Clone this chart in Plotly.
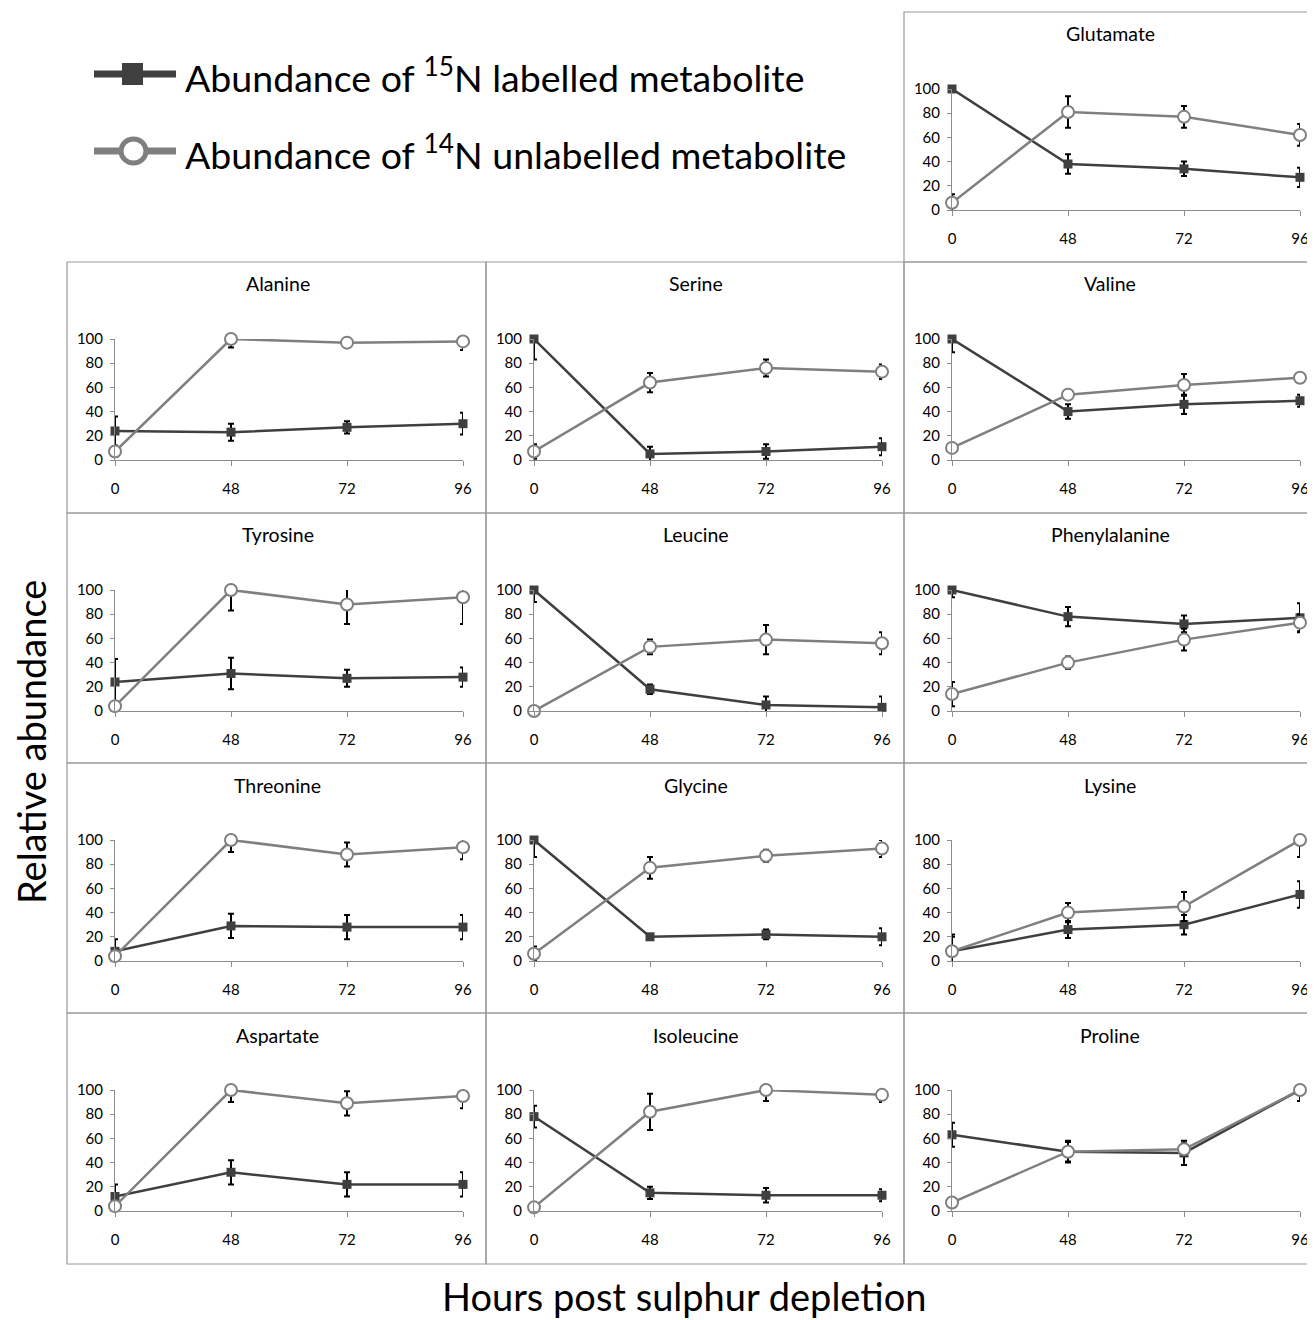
import plotly.graph_objects as go

# page body adds an 8px offset; figure is sized so that it ends at the window edge
OFF = 8
W, H = 1315 - OFF, 1320 - OFF
FONT = "Lato"

hours = ["0", "48", "72", "96"]

metabolites = ["Glutamate", "Alanine", "Serine", "Valine", "Tyrosine", "Leucine",
               "Phenylalanine", "Threonine", "Glycine", "Lysine", "Aspartate",
               "Isoleucine", "Proline"]

# 15N labelled (dark) means and error
n15 = {
    "Glutamate": [100, 38, 34, 27],
    "Alanine": [24, 23, 27, 30],
    "Serine": [100, 5, 7, 11],
    "Valine": [100, 40, 46, 49],
    "Tyrosine": [24, 31, 27, 28],
    "Leucine": [100, 18, 5, 3],
    "Phenylalanine": [100, 78, 72, 77],
    "Threonine": [8, 29, 28, 28],
    "Glycine": [100, 20, 22, 20],
    "Lysine": [8, 26, 30, 55],
    "Aspartate": [12, 32, 22, 22],
    "Isoleucine": [78, 15, 13, 13],
    "Proline": [63, 49, 48, 100],
}
n15_err = {
    "Glutamate": [2, 8, 6, 8],
    "Alanine": [12, 7, 5, 9],
    "Serine": [17, 6, 6, 7],
    "Valine": [11, 6, 8, 5],
    "Tyrosine": [19, 13, 7, 8],
    "Leucine": [10, 4, 7, 9],
    "Phenylalanine": [6, 8, 7, 12],
    "Threonine": [10, 10, 10, 10],
    "Glycine": [14, 1, 4, 7],
    "Lysine": [12, 7, 8, 11],
    "Aspartate": [10, 10, 10, 10],
    "Isoleucine": [9, 5, 6, 5],
    "Proline": [10, 9, 10, 9],
}
# 14N unlabelled (light) means and error
n14 = {
    "Glutamate": [6, 81, 77, 62],
    "Alanine": [7, 100, 97, 98],
    "Serine": [7, 64, 76, 73],
    "Valine": [10, 54, 62, 68],
    "Tyrosine": [4, 100, 88, 94],
    "Leucine": [0, 53, 59, 56],
    "Phenylalanine": [14, 40, 59, 73],
    "Threonine": [4, 100, 88, 94],
    "Glycine": [6, 77, 87, 93],
    "Lysine": [8, 40, 45, 100],
    "Aspartate": [4, 100, 89, 95],
    "Isoleucine": [3, 82, 100, 96],
    "Proline": [7, 49, 51, 100],
}
n14_err = {
    "Glutamate": [7, 13, 9, 9],
    "Alanine": [2, 7, 3, 7],
    "Serine": [6, 8, 7, 6],
    "Valine": [2, 4, 9, 2],
    "Tyrosine": [1, 17, 16, 22],
    "Leucine": [1, 6, 12, 9],
    "Phenylalanine": [10, 5, 9, 7],
    "Threonine": [2, 10, 10, 10],
    "Glycine": [6, 9, 5, 7],
    "Lysine": [14, 8, 12, 14],
    "Aspartate": [2, 10, 10, 10],
    "Isoleucine": [1, 15, 9, 6],
    "Proline": [2, 8, 5, 9],
}

# panel boxes (left, top, right, bottom) in window pixels
col_left = [67, 486, 904]
col_right = [486, 904, 1314]
row_top = [262, 513, 763, 1013]
row_bot = [513, 763, 1013, 1264]
panels = {"Glutamate": (904, 12, 1314, 262)}
grid = [["Alanine", "Serine", "Valine"],
        ["Tyrosine", "Leucine", "Phenylalanine"],
        ["Threonine", "Glycine", "Lysine"],
        ["Aspartate", "Isoleucine", "Proline"]]
for r, row in enumerate(grid):
    for c, name in enumerate(row):
        panels[name] = (col_left[c], row_top[r], col_right[c], row_bot[r])

DARK = "#3f3f3f"
LIGHT = "#7f7f7f"
AXC = "#8c8c8c"

fig = go.Figure()
shapes = []
annotations = []

def px(x):
    return (x - OFF) / W

def py(y):
    return 1 - (y - OFF) / H

xpos = list(range(len(hours)))

for i, name in enumerate(metabolites):
    L, T, R, B = panels[name]
    idx = i + 1
    xa = "x" if idx == 1 else f"x{idx}"
    ya = "y" if idx == 1 else f"y{idx}"
    xl = "xaxis" if idx == 1 else f"xaxis{idx}"
    yl = "yaxis" if idx == 1 else f"yaxis{idx}"
    fig.add_trace(go.Scatter(
        x=xpos, y=n15[name], xaxis=xa, yaxis=ya, mode="lines+markers",
        line=dict(color=DARK, width=2.5),
        marker=dict(symbol="square", size=9, color=DARK),
        error_y=dict(type="data", array=n15_err[name], color="black", thickness=2, width=3),
        cliponaxis=False, showlegend=False))
    fig.add_trace(go.Scatter(
        x=xpos, y=n14[name], xaxis=xa, yaxis=ya, mode="lines+markers",
        line=dict(color=LIGHT, width=2.5),
        marker=dict(symbol="circle", size=12, color="white", line=dict(color=LIGHT, width=2)),
        error_y=dict(type="data", array=n14_err[name], color="black", thickness=2, width=3),
        cliponaxis=False, showlegend=False))
    fig.layout[xl] = dict(
        domain=[px(L + 48), px(L + 396)], range=[0, 3], anchor=ya, automargin=False,
        tickmode="array", tickvals=xpos, ticktext=hours,
        showline=True, linecolor=AXC, linewidth=1, ticks="outside", ticklen=5,
        tickcolor=AXC, showgrid=False, zeroline=False, ticklabelstandoff=10,
        tickfont=dict(family=FONT, size=15, color="black"), fixedrange=True)
    fig.layout[yl] = dict(
        domain=[py(T + 198), py(T + 77)], range=[0, 100], anchor=xa, automargin=False,
        tickmode="array", tickvals=[0, 20, 40, 60, 80, 100],
        showline=True, linecolor=AXC, linewidth=1, ticks="outside", ticklen=4,
        tickcolor=AXC, showgrid=False, zeroline=False, ticklabelstandoff=4,
        tickfont=dict(family=FONT, size=15, color="black"), fixedrange=True)
    shapes.append(dict(type="rect", xref="paper", yref="paper",
                       x0=px(L), x1=px(R), y0=py(B), y1=py(T),
                       line=dict(color="#9a9a9a", width=1.2)))
    annotations.append(dict(text=name, xref="paper", yref="paper",
                            x=px((L + R) / 2 + 1), y=py(T + 22), showarrow=False,
                            xanchor="center", yanchor="middle",
                            font=dict(family=FONT, size=19.5, color="black")))

# legend (drawn)
leg = [(74, DARK, "square", "Abundance of <sup>15</sup>N labelled metabolite"),
       (151, LIGHT, "circle", "Abundance of <sup>14</sup>N unlabelled metabolite")]
for yy, col, sym, txt in leg:
    shapes.append(dict(type="line", xref="paper", yref="paper",
                       x0=px(94), x1=px(176), y0=py(yy), y1=py(yy),
                       line=dict(color=col, width=7)))
    if sym == "square":
        shapes.append(dict(type="rect", xref="paper", yref="paper",
                           x0=px(122), x1=px(143), y0=py(yy + 11), y1=py(yy - 11),
                           fillcolor=col, line=dict(color=col, width=0)))
    else:
        shapes.append(dict(type="circle", xref="paper", yref="paper",
                           x0=px(121), x1=px(146), y0=py(yy + 12), y1=py(yy - 12),
                           fillcolor="white", line=dict(color=col, width=5)))
    annotations.append(dict(text=txt, xref="paper", yref="paper", x=px(183), y=py(yy + 1),
                            xanchor="left", yanchor="middle", showarrow=False,
                            font=dict(family=FONT, size=37.5, color="black")))

annotations.append(dict(text="Relative abundance", xref="paper", yref="paper",
                        x=px(31), y=py(742), textangle=-90, showarrow=False,
                        xanchor="center", yanchor="middle",
                        font=dict(family=FONT, size=38, color="black")))
annotations.append(dict(text="Hours post sulphur depletion", xref="paper", yref="paper",
                        x=px(684), y=py(1296), showarrow=False,
                        xanchor="center", yanchor="middle",
                        font=dict(family=FONT, size=38, color="black")))

fig.update_layout(width=W, height=H, margin=dict(l=0, r=0, t=0, b=0, autoexpand=False),
                  paper_bgcolor="white", plot_bgcolor="white",
                  shapes=shapes, annotations=annotations,
                  font=dict(family=FONT))

fig.write_html("out.html")
